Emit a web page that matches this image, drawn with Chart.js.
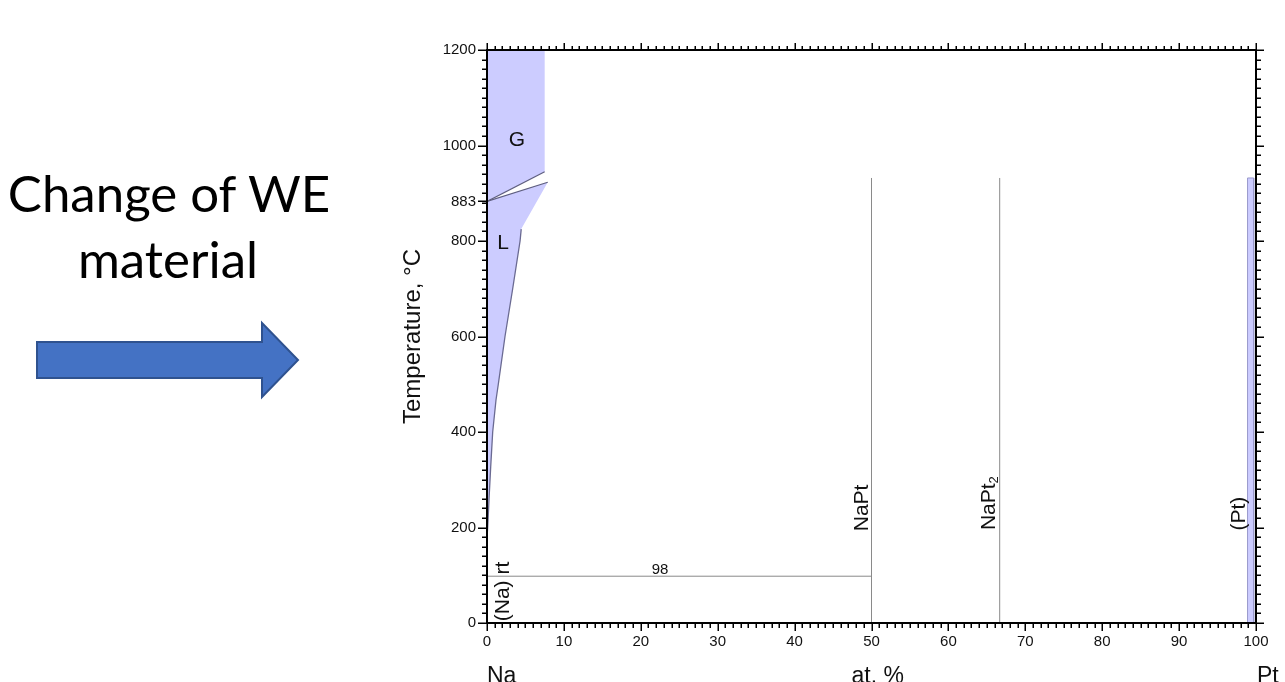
<!DOCTYPE html>
<html>
<head>
<meta charset="utf-8">
<script src="https://cdn.jsdelivr.net/npm/chart.js@4.4.1/dist/chart.umd.min.js"></script>
<style>
html,body{margin:0;padding:0;background:#fff;width:1285px;height:682px;overflow:hidden;}
#wrap{position:absolute;left:0;top:0;width:1285px;height:682px;}
#side{position:absolute;left:0;top:0;}
</style>
</head>
<body>
<div id="wrap"><canvas id="c" width="1285" height="682"></canvas></div>
<svg id="side" width="340" height="682" xmlns="http://www.w3.org/2000/svg">
  <text x="169" y="212" text-anchor="middle" font-family="Lato" font-size="51" fill="#000">Change of WE</text>
  <text x="168" y="278" text-anchor="middle" font-family="Lato" font-size="51" fill="#000">material</text>
  <polygon points="37,342 262,342 262,323 298,360 262,397 262,378 37,378" fill="#4472C4" stroke="#2F528F" stroke-width="2" stroke-linejoin="miter"/>
</svg>
<script>
// ---- data (at.% Pt, temperature °C) ----
const xTickValues = [0,10,20,30,40,50,60,70,80,90,100];
const tempTickValues = [0,200,400,600,800,883,1000,1200];

const gasX = [0, 7.5, 7.5, 0];
const gasT = [1200, 1200, 945, 883];

const liquidX = [0, 7.9, 4.45, 4.3, 3.34, 2.34, 1.47, 1.17, 0.74, 0.48, 0.26, 0.09, 0];
const liquidT = [883, 923, 825, 800, 700, 600, 500, 467, 400, 327, 258, 200, 180];

const gasBoundaryX = [0, 7.5];
const gasBoundaryT = [883, 945];
const liquidTopX = [0, 7.9];
const liquidTopT = [883, 923];

const liquidusX = [4.45, 4.3, 3.34, 2.34, 1.47, 1.17, 0.74, 0.48, 0.26, 0.09, 0];
const liquidusT = [825, 800, 700, 600, 500, 467, 400, 327, 258, 200, 180];

const naptX = [50, 50];
const naptT = [0, 932];
const napt2X = [66.67, 66.67];
const napt2T = [0, 932];
const eutecticX = [0, 50];
const eutecticT = [98, 98];

const ptX = [98.9, 98.9, 99.7, 99.7];
const ptT = [0, 932, 932, 0];

const phaseLabels = ['G', 'L', 'NaPt', 'NaPt', '(Pt)', '(Na) rt'];
const eutecticLabel = '98';
const axisLabels = ['Na', 'at. %', 'Pt'];

// ---- helpers ----
const pts = (xs, ts) => xs.map((x, i) => ({x: x, y: ts[i]}));
const FILL = '#ccccff';
const LINE_DARK = '#5f5f80';
const LINE_GREY = '#8a8a8a';
const FONT = "'Liberation Sans', Arial, sans-serif";

function lineDs(xs, ts, color, width, order) {
  return {data: pts(xs, ts), showLine: true, pointRadius: 0, tension: 0,
          borderColor: color, borderWidth: width, fill: false, order: order};
}
function shapeDs(xs, ts, color, border, order) {
  return {data: pts(xs, ts), showLine: true, pointRadius: 0, tension: 0,
          borderColor: border || 'rgba(0,0,0,0)', borderWidth: border ? 1 : 0,
          backgroundColor: color, fill: 'shape', order: order};
}

const decoPlugin = {
  id: 'deco',
  afterDatasetsDraw(chart) {
    const {ctx, scales: {x, y}} = chart;
    const px = v => x.getPixelForValue(v);
    const py = v => y.getPixelForValue(v);
    ctx.save();
    ctx.fillStyle = '#111';
    ctx.font = '21px ' + FONT;
    ctx.textAlign = 'center';
    ctx.textBaseline = 'middle';
    ctx.fillText(phaseLabels[0], px(3.9), py(1011));
    ctx.fillText(phaseLabels[1], px(2.1), py(796));
    ctx.font = '15px ' + FONT;
    ctx.textBaseline = 'alphabetic';
    ctx.fillText(eutecticLabel, px(22.5), py(98) - 2);

    function vtext(txt, vx, vt, dx, sub) {
      ctx.save();
      ctx.translate(px(vx) + dx, py(vt));
      ctx.rotate(-Math.PI / 2);
      ctx.font = '21px ' + FONT;
      ctx.textBaseline = 'alphabetic';
      if (sub) {
        ctx.font = '21px ' + FONT;
        const w1 = ctx.measureText(txt).width;
        ctx.font = '13px ' + FONT;
        const w2 = ctx.measureText(sub).width;
        const start = -(w1 + w2) / 2;
        ctx.textAlign = 'left';
        ctx.font = '21px ' + FONT;
        ctx.fillText(txt, start, 0);
        ctx.font = '13px ' + FONT;
        ctx.fillText(sub, start + w1, 3);
      } else {
        ctx.textAlign = 'center';
        ctx.fillText(txt, 0, 0);
      }
      ctx.restore();
    }
    vtext(phaseLabels[2], 50, 241, -4);
    vtext(phaseLabels[3], 66.67, 251, -5, '2');
    vtext(phaseLabels[4], 98.9, 229, -3);
    vtext(phaseLabels[5], 0, 66, 22);
    ctx.restore();
  },
  afterDraw(chart) {
    const {ctx, chartArea: {left, top, right, bottom}, scales: {x, y}} = chart;
    ctx.save();
    ctx.strokeStyle = '#000';
    ctx.lineWidth = 2;
    ctx.strokeRect(left, top, right - left, bottom - top);
    ctx.lineWidth = 1.5;
    ctx.beginPath();
    for (let v = x.min; v <= x.max; v += 1) {
      const p = Math.round(x.getPixelForValue(v)) + 0.25;
      const major = v % 10 === 0;
      ctx.moveTo(p, bottom); ctx.lineTo(p, bottom + (major ? 8 : 5));
      ctx.moveTo(p, top); ctx.lineTo(p, top - (major ? 7 : 4));
    }
    for (let t = y.min; t <= y.max; t += 20) {
      const p = Math.round(y.getPixelForValue(t)) + 0.25;
      const major = t % 200 === 0;
      ctx.moveTo(left, p); ctx.lineTo(left - (major ? 9 : 5), p);
      ctx.moveTo(right, p); ctx.lineTo(right + (major ? 8 : 5), p);
    }
    const p883 = Math.round(y.getPixelForValue(883)) + 0.25;
    ctx.moveTo(left, p883); ctx.lineTo(left - 9, p883);
    ctx.stroke();

    ctx.fillStyle = '#111';
    ctx.font = '23px ' + FONT;
    ctx.textBaseline = 'alphabetic';
    ctx.textAlign = 'left';
    ctx.fillText(axisLabels[0], x.getPixelForValue(0), 683);
    ctx.textAlign = 'center';
    ctx.fillText(axisLabels[1], x.getPixelForValue(50.8), 683);
    ctx.textAlign = 'left';
    ctx.fillText(axisLabels[2], x.getPixelForValue(100) + 1, 683);
    ctx.restore();
  }
};

new Chart(document.getElementById('c'), {
  type: 'scatter',
  data: {
    datasets: [
      shapeDs(gasX, gasT, FILL, null, 10),
      shapeDs(liquidX, liquidT, FILL, null, 10),
      shapeDs(ptX, ptT, FILL, '#9a9acc', 10),
      lineDs(gasBoundaryX, gasBoundaryT, LINE_DARK, 1.2, 1),
      lineDs(liquidTopX, liquidTopT, LINE_DARK, 1.2, 1),
      lineDs(liquidusX, liquidusT, '#6a6a92', 1.3, 1),
      lineDs(naptX, naptT, LINE_GREY, 1, 2),
      lineDs(napt2X, napt2T, LINE_GREY, 1, 2),
      lineDs(eutecticX, eutecticT, LINE_GREY, 1, 2)
    ]
  },
  options: {
    responsive: false,
    animation: false,
    events: [],
    layout: {padding: {left: 395, top: 50, right: 29, bottom: 0}},
    plugins: {legend: {display: false}, tooltip: {enabled: false}},
    scales: {
      x: {
        type: 'linear', min: 0, max: 100,
        grid: {display: false, drawTicks: false},
        border: {display: false},
        afterBuildTicks: s => { s.ticks = xTickValues.map(v => ({value: v})); },
        afterFit: s => { s.height = 59; s.paddingLeft = 0; s.paddingRight = 0; },
        ticks: {color: '#111', font: {family: FONT, size: 15}, padding: 10, maxRotation: 0, autoSkip: false,
                callback: v => String(v)}
      },
      y: {
        type: 'linear', min: 0, max: 1200,
        grid: {display: false, drawTicks: false},
        border: {display: false},
        afterBuildTicks: s => { s.ticks = tempTickValues.map(v => ({value: v})); },
        afterFit: s => { s.width = 92; s.paddingTop = 0; s.paddingBottom = 0; },
        ticks: {color: '#111', font: {family: FONT, size: 15}, padding: 11, autoSkip: false,
                callback: v => String(v)},
        title: {display: true, text: 'Temperature, °C', color: '#111',
                font: {family: FONT, size: 24}, padding: {top: 4, bottom: 0}}
      }
    }
  },
  plugins: [decoPlugin]
});
</script>
</body>
</html>
